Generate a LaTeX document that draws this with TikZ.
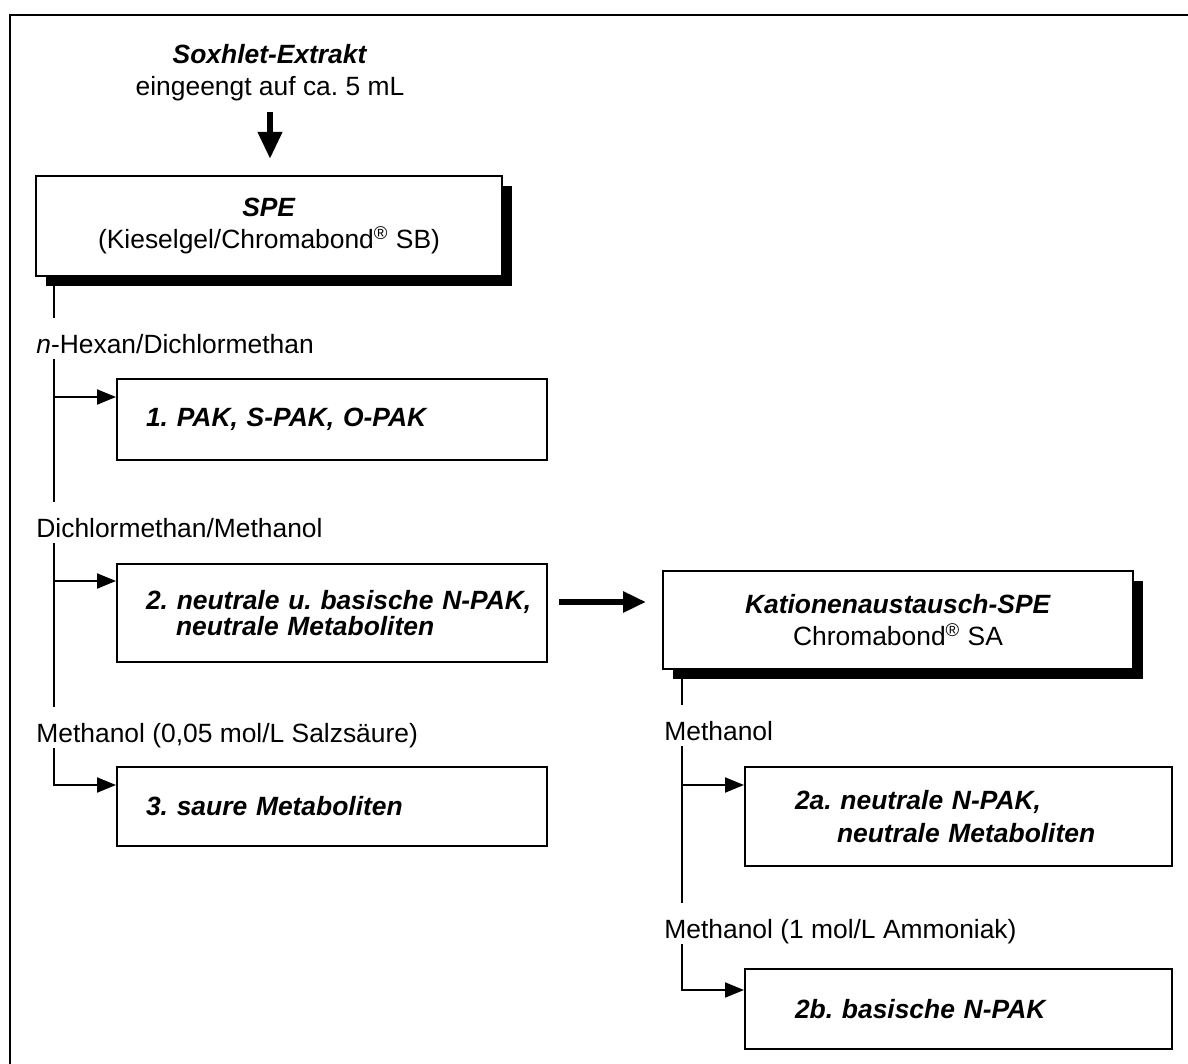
\documentclass[tikz,border=0pt]{standalone}
\usepackage{fontspec}
\setmainfont{Liberation Sans}
\usepackage{tikz}
\usetikzlibrary{arrows.meta,shadows}
\frenchspacing

\begin{document}
\begin{tikzpicture}[x=0.5pt,y=-0.5pt,
  font=\fontsize{13.2}{16}\selectfont,
  spebox/.style={rectangle,draw=black,line width=1pt,fill=white,align=center,inner sep=0pt,drop shadow={shadow xshift=5pt,shadow yshift=-5pt,fill=black,opacity=1}},
  fraction/.style={rectangle,draw=black,line width=1pt,fill=white,align=left,inner ysep=0pt,font=\fontsize{13.2}{14}\selectfont\bfseries\itshape},
  leftfrac/.style={fraction,inner xsep=14.5pt,text width=186pt},
  rightfrac/.style={fraction,inner xsep=25pt,text width=163.5pt},
  solvent/.style={anchor=base west,inner sep=0pt,text height=17.5pt,text depth=3pt},
  flow/.style={line width=1pt},
  flowarrow/.style={flow,-{Triangle[length=9.5pt,width=7.5pt]}},
  downarrow/.style={line width=3.3pt,-{Triangle[length=13.5pt,width=11.5pt]}},
  bigarrow/.style={line width=3.4pt,-{Triangle[length=11.5pt,width=10pt]}}]
\clip (0,0) rectangle (1188,1064);
\draw[line width=1.2pt] (10,15) rectangle (1220,1090);

\node[align=center,inner sep=0pt] (src) at (270,72.5) {\textbf{\textit{Soxhlet-Extrakt}}\\eingeengt auf ca. 5 mL};
\node[spebox,minimum width=233pt,minimum height=50pt] (spe) at (269,226) {\textbf{\textit{SPE}}\\(Kieselgel/Chromabond\textsuperscript{®} SB)};
\draw[downarrow,shorten <=5.5pt,shorten >=8pt] (src.south) -- (src.south |- spe.north);

\node[solvent] (hex) at (36,353) {\textit{n}-Hexan/Dichlormethan};
\node[leftfrac,minimum height=40.5pt] (f1) at (332,419.5) {\mbox{1. PAK, S-PAK, O-PAK}};
\node[solvent] (dcm) at (36,537) {Dichlormethan/Methanol};
\node[leftfrac,minimum height=49pt] (f2) at (332,613) {\mbox{2. neutrale u. basische N-PAK,}\\[-1pt]\hspace*{15pt}\mbox{neutrale Metaboliten}};
\node[solvent] (hcl) at (36,742) {Methanol (0,05 mol/L Salzsäure)};
\node[leftfrac,minimum height=39.5pt] (f3) at (332,806.5) {\mbox{3. saure Metaboliten}};

\node[spebox,minimum width=235pt,minimum height=49pt] (kat) at (898,620) {\textbf{\textit{Kationenaustausch-SPE}}\\Chromabond\textsuperscript{®} SA};
\node[solvent] (meoh) at (664,740) {Methanol};
\node[rightfrac,minimum height=49.5pt] (f2a) at (958.5,816.5) {\mbox{2a. neutrale N-PAK,}\\[2.5pt]\hspace*{21pt}\mbox{neutrale Metaboliten}};
\node[solvent] (nh3) at (664,938) {Methanol (1 mol/L Ammoniak)};
\node[rightfrac,minimum height=40pt] (f2b) at (958.5,1009) {\mbox{2b. basische N-PAK}};

\coordinate (trunkL) at ([xshift=9.5pt]spe.south west);
\coordinate (trunkR) at ([xshift=10pt]kat.south west);
\coordinate (in1) at ([yshift=-9.5pt]f1.north west);
\coordinate (in2) at ([yshift=-9pt]f2.north west);
\coordinate (in3) at ([yshift=-9.5pt]f3.north west);
\coordinate (in2a) at ([yshift=-9.5pt]f2a.north west);
\coordinate (in2b) at ([yshift=-11pt]f2b.north west);

\draw[flow] (trunkL) -- (trunkL |- hex.north);
\draw[flow] (trunkL |- hex.south) -- (trunkL |- dcm.north);
\draw[flowarrow] (trunkL |- in1) -- (in1);
\draw[flow] (trunkL |- dcm.south) -- (trunkL |- hcl.north);
\draw[flowarrow] (trunkL |- in2) -- (in2);
\draw[flowarrow] (trunkL |- hcl.south) |- (in3);

\draw[bigarrow,shorten <=5.5pt,shorten >=8pt] ([yshift=5.5pt]f2.east) -- ([yshift=5.5pt]f2.east -| kat.west);

\draw[flow] (trunkR) -- (trunkR |- meoh.north);
\draw[flow] (trunkR |- meoh.south) -- (trunkR |- nh3.north);
\draw[flowarrow] (trunkR |- in2a) -- (in2a);
\draw[flowarrow] (trunkR |- nh3.south) |- (in2b);
\end{tikzpicture}
\end{document}
